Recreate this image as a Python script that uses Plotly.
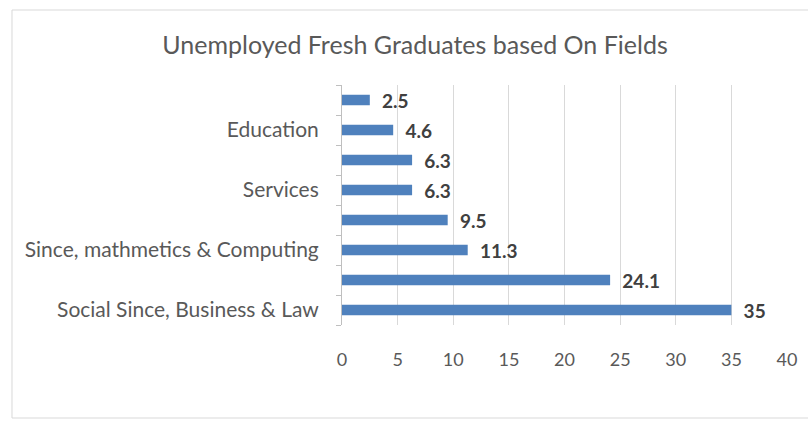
import plotly.graph_objects as go

# Categories listed bottom-to-top; hidden-label categories are unnamed in the source
categories = ["Social Since, Business & Law", "Field 7", "Since, mathmetics & Computing",
              "Field 5", "Services", "Field 3", "Education", "Field 1"]
tick_labels = ["Social Since, Business & Law", "", "Since, mathmetics & Computing",
               "", "Services", "", "Education", ""]
values = [35, 24.1, 11.3, 9.5, 6.3, 6.3, 4.6, 2.5]
x_ticks = [0, 5, 10, 15, 20, 25, 30, 35, 40]

font_family = "Lato, 'Open Sans', sans-serif"

fig = go.Figure(go.Bar(
    y=categories,
    x=values,
    orientation="h",
    marker=dict(color="#4F81BD", line=dict(width=0)),
    width=0.35,
    text=values,
    texttemplate="  %{x}",
    textposition="outside",
    constraintext="none",
    textfont=dict(family=font_family, size=19, color="#404040", weight="bold"),
    cliponaxis=False,
))

fig.update_layout(
    width=808, height=421,
    margin=dict(l=342, r=21, t=85, b=96),
    paper_bgcolor="white", plot_bgcolor="white",
    showlegend=False,
    title=dict(text="Unemployed Fresh Graduates based On Fields",
               x=0.5136, xanchor="center", y=0.893, yanchor="middle",
               font=dict(family=font_family, size=25, color="#595959")),
    xaxis=dict(range=[0, 40], tickvals=x_ticks, showgrid=True, gridcolor="#d9d9d9",
               gridwidth=1, zeroline=False, showline=False, ticks="",
               ticklabelstandoff=22,
               tickfont=dict(family=font_family, size=18, color="#595959")),
    yaxis=dict(type="category", categoryorder="array", categoryarray=categories,
               tickvals=categories, ticktext=tick_labels,
               tickson="boundaries", ticks="outside", ticklen=5, tickcolor="#bfbfbf",
               showline=True, linecolor="#bfbfbf", linewidth=1, showgrid=False,
               ticklabelstandoff=18,
               tickfont=dict(family=font_family, size=21, color="#595959")),
    shapes=[dict(type="rect", xref="paper", yref="paper",
                 x0=-0.7416, x1=1.06, y0=-0.3875, y1=1.3125,
                 line=dict(color="#d9d9d9", width=1), fillcolor="rgba(0,0,0,0)",
                 layer="below")],
)

fig.write_html("out.html")
